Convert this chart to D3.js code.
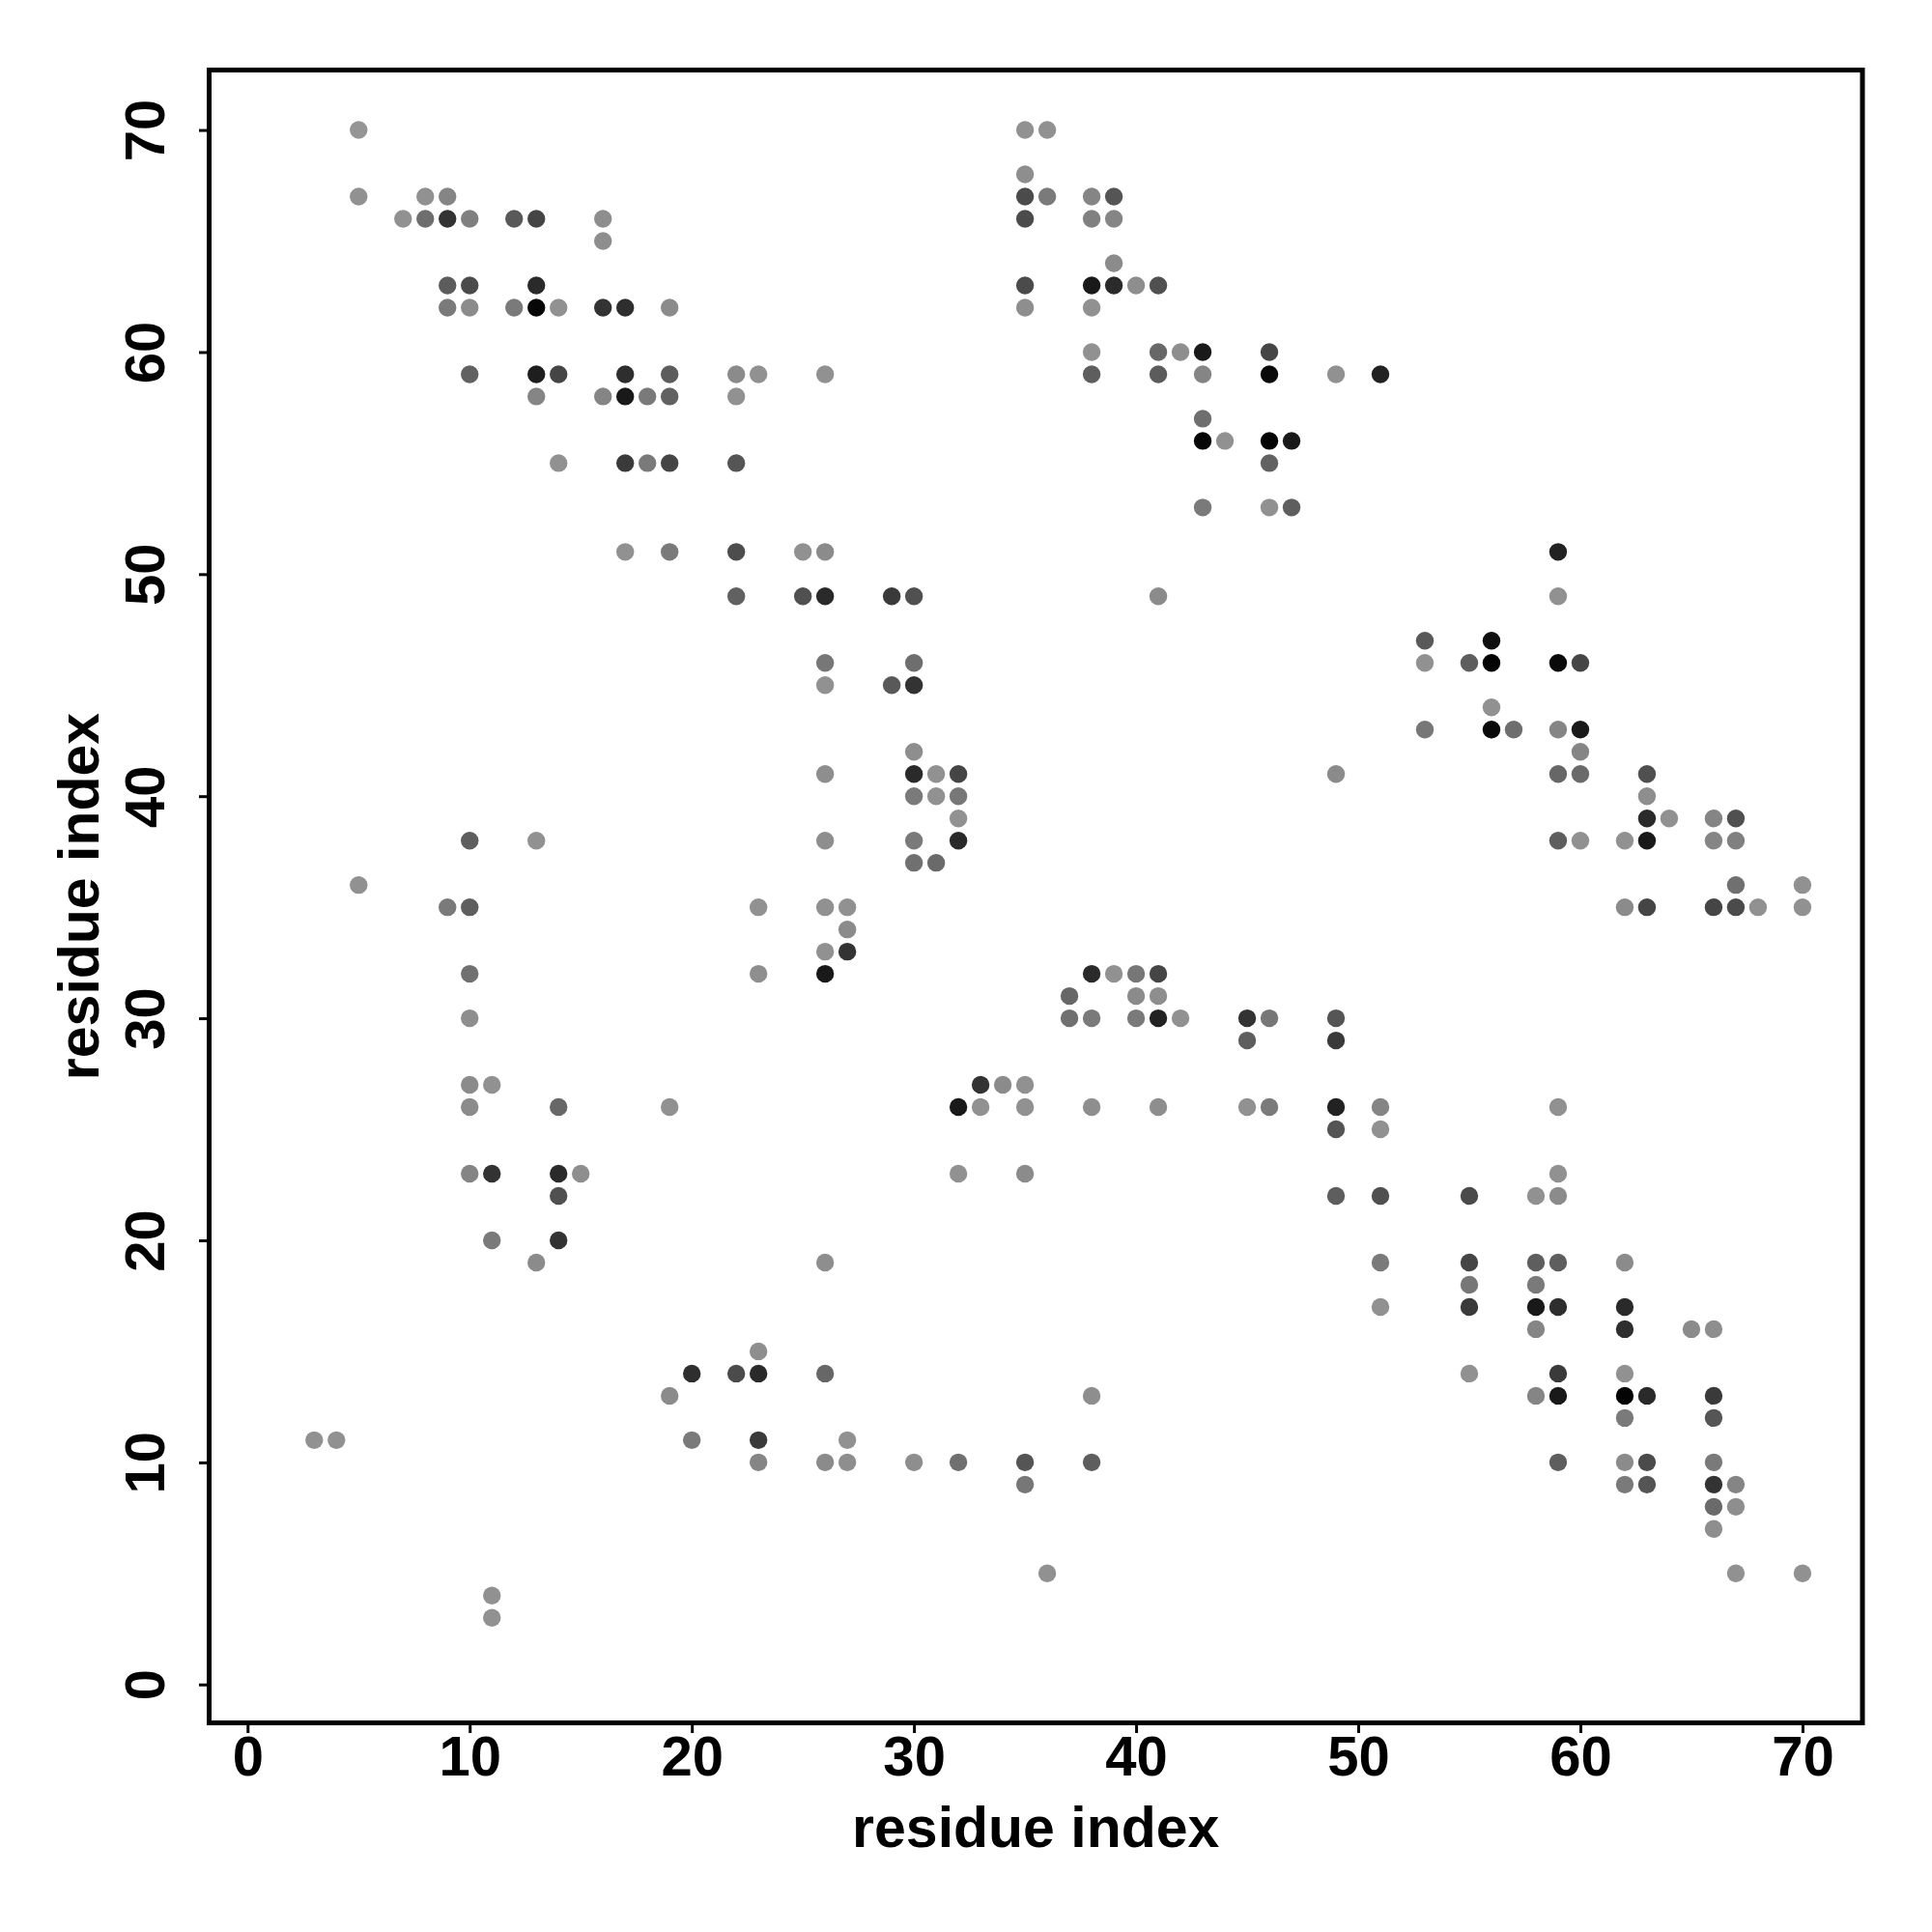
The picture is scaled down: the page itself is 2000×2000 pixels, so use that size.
<!DOCTYPE html>
<html>
<head>
<meta charset="utf-8">
<script src="https://cdn.jsdelivr.net/npm/d3@7"></script>
<style>
  body { margin: 0; background: #fff; }
  text { font-family: "Liberation Sans", Arial, Helvetica, sans-serif; font-weight: bold; }
</style>
</head>
<body>
<div id="chart"></div>
<script>
// contact map: one row per residue index j, with the partner residues i and the contact strength (0 light .. 1 black)
const rowY = [70, 68, 67, 66, 65, 64, 63, 62, 60, 59, 58, 57, 56, 55, 53, 51, 49, 47, 46, 45, 44, 43, 42, 41, 40, 39, 38, 37, 36, 35, 34, 33, 32, 31, 30, 29, 27, 26, 25, 23, 22, 20, 19, 18, 17, 16, 15, 14, 13, 12, 11, 10, 9, 8, 7, 5, 4, 3];
const rowX = [
    [5, 35, 36],
    [35],
    [5, 8, 9, 35, 36, 38, 39],
    [7, 8, 9, 10, 12, 13, 16, 35, 38, 39],
    [16],
    [39],
    [9, 10, 13, 35, 38, 39, 40, 41],
    [9, 10, 12, 13, 14, 16, 17, 19, 35, 38],
    [38, 41, 42, 43, 46],
    [10, 13, 14, 17, 19, 22, 23, 26, 38, 41, 43, 46, 49, 51],
    [13, 16, 17, 18, 19, 22],
    [43],
    [43, 44, 46, 47],
    [14, 17, 18, 19, 22, 46],
    [43, 46, 47],
    [17, 19, 22, 25, 26, 59],
    [22, 25, 26, 29, 30, 41, 59],
    [53, 56],
    [26, 30, 53, 55, 56, 59, 60],
    [26, 29, 30],
    [56],
    [53, 56, 57, 59, 60],
    [30, 60],
    [26, 30, 31, 32, 49, 59, 60, 63],
    [30, 31, 32, 63],
    [32, 63, 64, 66, 67],
    [10, 13, 26, 30, 32, 59, 60, 62, 63, 66, 67],
    [30, 31],
    [5, 67, 70],
    [9, 10, 23, 26, 27, 62, 63, 66, 67, 68, 70],
    [27],
    [26, 27],
    [10, 23, 26, 38, 39, 40, 41],
    [37, 40, 41],
    [10, 37, 38, 40, 41, 42, 45, 46, 49],
    [45, 49],
    [10, 11, 33, 34, 35],
    [10, 14, 19, 32, 33, 35, 38, 41, 45, 46, 49, 51, 59],
    [49, 51],
    [10, 11, 14, 15, 32, 35, 59],
    [14, 49, 51, 55, 58, 59],
    [11, 14],
    [13, 26, 51, 55, 58, 59, 62],
    [55, 58],
    [51, 55, 58, 59, 62],
    [58, 62, 65, 66],
    [23],
    [20, 22, 23, 26, 55, 59, 62],
    [19, 38, 58, 59, 62, 63, 66],
    [62, 66],
    [3, 4, 20, 23, 27],
    [23, 26, 27, 30, 32, 35, 38, 59, 62, 63, 66],
    [35, 62, 63, 66, 67],
    [66, 67],
    [66],
    [36, 67, 70],
    [11],
    [11]
];
const rowStrength = [
    [0.00, 0.03, 0.03],
    [0.05],
    [0.03, 0.03, 0.11, 0.50, 0.18, 0.11, 0.43],
    [0.03, 0.26, 0.66, 0.15, 0.40, 0.54, 0.05, 0.50, 0.14, 0.11],
    [0.05],
    [0.07],
    [0.38, 0.50, 0.72, 0.50, 0.83, 0.72, 0.05, 0.46],
    [0.18, 0.07, 0.18, 0.95, 0.03, 0.66, 0.69, 0.07, 0.05, 0.03],
    [0.03, 0.31, 0.05, 0.83, 0.54],
    [0.35, 0.80, 0.54, 0.69, 0.38, 0.07, 0.03, 0.03, 0.37, 0.38, 0.11, 0.93, 0.03, 0.77],
    [0.11, 0.11, 0.83, 0.18, 0.35, 0.03],
    [0.26],
    [0.95, 0.03, 0.97, 0.83],
    [0.03, 0.61, 0.18, 0.54, 0.43, 0.34],
    [0.18, 0.03, 0.37],
    [0.03, 0.18, 0.48, 0.03, 0.07, 0.77],
    [0.35, 0.46, 0.72, 0.61, 0.46, 0.07, 0.03],
    [0.40, 0.89],
    [0.20, 0.26, 0.03, 0.37, 0.98, 0.93, 0.54],
    [0.03, 0.40, 0.66],
    [0.03],
    [0.20, 0.93, 0.26, 0.11, 0.83],
    [0.05, 0.11],
    [0.05, 0.72, 0.03, 0.54, 0.07, 0.31, 0.29, 0.46],
    [0.18, 0.03, 0.20, 0.05],
    [0.03, 0.72, 0.03, 0.11, 0.46],
    [0.37, 0.03, 0.05, 0.18, 0.72, 0.37, 0.03, 0.03, 0.83, 0.11, 0.14],
    [0.25, 0.29],
    [0.03, 0.25, 0.03],
    [0.18, 0.37, 0.03, 0.03, 0.03, 0.07, 0.54, 0.54, 0.50, 0.03, 0.03],
    [0.07],
    [0.03, 0.66],
    [0.25, 0.05, 0.83, 0.72, 0.03, 0.20, 0.54],
    [0.31, 0.07, 0.05],
    [0.05, 0.25, 0.18, 0.18, 0.77, 0.03, 0.66, 0.20, 0.43],
    [0.37, 0.61],
    [0.07, 0.03, 0.66, 0.07, 0.03],
    [0.07, 0.31, 0.03, 0.83, 0.03, 0.03, 0.05, 0.05, 0.03, 0.18, 0.77, 0.11, 0.03],
    [0.43, 0.03],
    [0.11, 0.66, 0.72, 0.05, 0.03, 0.07, 0.03],
    [0.46, 0.37, 0.46, 0.50, 0.03, 0.07],
    [0.18, 0.66],
    [0.07, 0.05, 0.18, 0.54, 0.37, 0.37, 0.07],
    [0.20, 0.18],
    [0.03, 0.61, 0.83, 0.69, 0.72],
    [0.11, 0.69, 0.07, 0.05],
    [0.05],
    [0.69, 0.50, 0.72, 0.31, 0.03, 0.61, 0.03],
    [0.07, 0.05, 0.11, 0.83, 0.97, 0.72, 0.61],
    [0.18, 0.43],
    [0.03, 0.03, 0.18, 0.61, 0.03],
    [0.11, 0.07, 0.05, 0.05, 0.25, 0.43, 0.37, 0.37, 0.07, 0.50, 0.18],
    [0.20, 0.18, 0.43, 0.66, 0.11],
    [0.29, 0.05],
    [0.05],
    [0.03, 0.03, 0.03],
    [0.03],
    [0.03]
];
const tickValues = [0, 10, 20, 30, 40, 50, 60, 70];
const axisTitle = "residue index";

const width = 2000, height = 2000;
const box = {left: 216.5, right: 1928, top: 72.5, bottom: 1783.5};

const points = [];
rowY.forEach((y, r) => {
    rowX[r].forEach((x, k) => points.push({x: x, y: y, s: rowStrength[r][k]}));
});

const x = d3.scaleLinear().domain([-1.73, 72.7]).range([box.left, box.right]);
const y = d3.scaleLinear().domain([-1.73, 72.7]).range([box.bottom, box.top]);
const grey = d3.scaleLinear().domain([0, 1]).range(["#959595", "#000000"]);

const svg = d3.select("#chart").append("svg")
    .attr("width", width).attr("height", height)
    .style("background", "#fff");

svg.append("g").selectAll("circle")
    .data(points)
    .enter().append("circle")
    .attr("cx", d => x(d.x))
    .attr("cy", d => y(d.y))
    .attr("r", 9.2)
    .attr("fill", d => grey(d.s));

// box around the plot
svg.append("rect")
    .attr("x", box.left).attr("y", box.top)
    .attr("width", box.right - box.left).attr("height", box.bottom - box.top)
    .attr("fill", "none").attr("stroke", "#000").attr("stroke-width", 5);

//x axis
const gx = svg.append("g")
    .attr("transform", `translate(0, ${box.bottom + 2.5})`)
    .call(d3.axisBottom(x).tickValues(tickValues).tickSize(8).tickPadding(3).tickFormat(d3.format("d")));
gx.select(".domain").remove();
gx.selectAll(".tick line").attr("stroke-width", 3);
gx.selectAll("text").attr("font-size", 58).attr("fill", "#000");

//y axis, labels turned like in R
const gy = svg.append("g")
    .attr("transform", `translate(${box.left - 2.5}, 0)`)
    .call(d3.axisLeft(y).tickValues(tickValues).tickSize(8).tickFormat(d3.format("d")));
gy.select(".domain").remove();
gy.selectAll(".tick line").attr("stroke-width", 3);
gy.selectAll("text")
    .attr("x", null).attr("dy", null)
    .attr("transform", "translate(-44,0) rotate(-90)")
    .attr("text-anchor", "middle")
    .attr("font-size", 58).attr("fill", "#000");

svg.append("text")
    .attr("x", (box.left + box.right) / 2).attr("y", 1912)
    .attr("text-anchor", "middle").attr("font-size", 59)
    .text(axisTitle);

svg.append("text")
    .attr("transform", `translate(102, ${(box.top + box.bottom) / 2}) rotate(-90)`)
    .attr("text-anchor", "middle").attr("font-size", 59)
    .text(axisTitle);
</script>
</body>
</html>
